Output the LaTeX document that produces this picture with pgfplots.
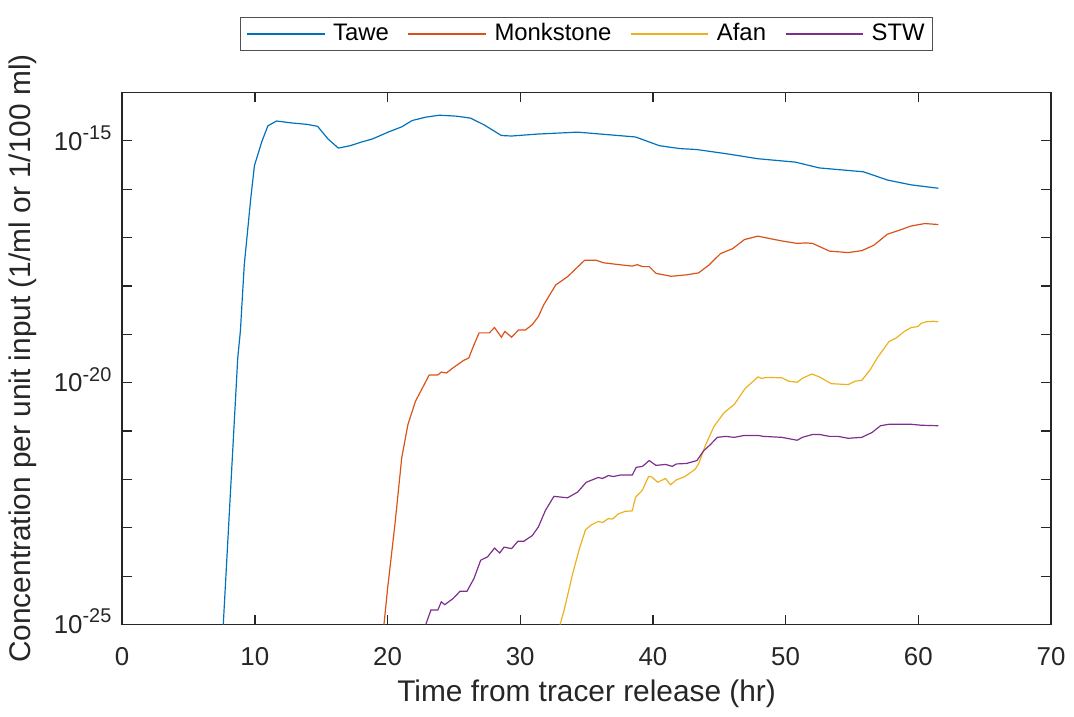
\documentclass[border=0pt]{standalone}
\usepackage{fontspec}
\setmainfont{Liberation Sans}
\usepackage{pgfplots}
\pgfplotsset{compat=1.18}
\usepackage{pgfplotstable}

% MATLAB default line colours
\definecolor{mblue}{HTML}{0072BD}
\definecolor{morange}{HTML}{D95319}
\definecolor{myellow}{HTML}{EDB120}
\definecolor{mpurple}{HTML}{7E2F8E}
\definecolor{axgray}{HTML}{262626}

\newcommand{\tenpow}[1]{10\raisebox{11pt}{\fontsize{20}{22}\selectfont #1}}

% y values are log10 of the concentration
\pgfplotstableread{
t ly
7.62 -25.00
8.71 -19.49
8.91 -18.93
9.20 -17.57
9.69 -16.19
9.97 -15.51
10.52 -15.02
10.98 -14.69
11.63 -14.59
12.79 -14.63
13.96 -14.66
14.73 -14.70
15.51 -14.96
16.29 -15.15
17.19 -15.10
17.97 -15.03
18.87 -14.96
20.04 -14.82
21.07 -14.71
21.85 -14.58
22.88 -14.51
23.92 -14.47
25.21 -14.49
26.25 -14.53
27.28 -14.67
28.58 -14.89
29.35 -14.90
31.30 -14.86
34.33 -14.82
38.69 -14.92
40.49 -15.10
42.03 -15.16
43.31 -15.18
45.62 -15.27
47.92 -15.37
50.74 -15.44
52.54 -15.56
55.87 -15.64
57.67 -15.81
59.46 -15.91
61.51 -15.98
}\tawe

\pgfplotstableread{
t ly
19.73 -25.00
19.99 -24.29
20.56 -22.92
21.07 -21.55
21.54 -20.86
22.11 -20.38
22.76 -20.04
23.14 -19.84
23.79 -19.84
24.05 -19.78
24.44 -19.80
24.95 -19.69
25.73 -19.54
26.12 -19.49
26.51 -19.22
26.90 -18.97
27.67 -18.97
28.06 -18.86
28.58 -19.06
28.84 -18.94
29.35 -19.06
29.87 -18.91
30.39 -18.91
30.91 -18.80
31.37 -18.63
31.77 -18.39
32.67 -17.98
33.56 -17.81
34.85 -17.47
35.74 -17.47
36.26 -17.52
37.15 -17.55
38.44 -17.59
38.82 -17.56
39.21 -17.60
39.72 -17.60
40.23 -17.74
41.38 -17.80
42.54 -17.77
43.44 -17.73
44.21 -17.57
45.10 -17.33
46.00 -17.23
46.90 -17.04
47.92 -16.97
48.44 -17.00
49.72 -17.07
50.87 -17.12
51.51 -17.11
52.03 -17.12
53.31 -17.28
54.72 -17.31
55.74 -17.27
56.64 -17.16
57.67 -16.93
58.44 -16.86
59.46 -16.76
60.49 -16.71
61.51 -16.73
}\monk

\pgfplotstableread{
t ly
33.00 -25.00
33.31 -24.70
33.95 -23.95
34.46 -23.43
34.92 -23.04
35.36 -22.94
35.87 -22.87
36.21 -22.89
36.64 -22.81
36.95 -22.82
37.41 -22.71
37.92 -22.66
38.44 -22.65
38.69 -22.37
39.21 -22.22
39.67 -21.94
39.92 -21.95
40.36 -22.06
40.95 -21.98
41.33 -22.11
41.77 -22.01
42.41 -21.94
43.18 -21.79
43.44 -21.68
43.95 -21.30
44.59 -20.91
45.36 -20.62
46.13 -20.45
46.95 -20.12
47.92 -19.88
48.18 -19.91
48.69 -19.89
49.72 -19.90
50.23 -19.97
50.87 -19.99
51.26 -19.91
51.97 -19.82
52.54 -19.88
53.44 -20.02
54.72 -20.04
55.23 -19.97
55.74 -19.95
56.38 -19.73
56.90 -19.49
57.79 -19.15
58.31 -19.08
58.95 -18.94
59.46 -18.86
59.97 -18.84
60.23 -18.77
60.62 -18.74
61.13 -18.73
61.51 -18.74
}\afan

\pgfplotstableread{
t ly
22.88 -25.00
23.27 -24.70
23.79 -24.70
24.05 -24.53
24.31 -24.59
24.95 -24.46
25.47 -24.31
25.99 -24.31
26.51 -24.05
27.02 -23.67
27.54 -23.60
28.06 -23.42
28.45 -23.52
28.78 -23.40
29.35 -23.43
29.82 -23.28
30.26 -23.28
30.91 -23.16
31.37 -22.98
31.90 -22.64
32.54 -22.35
33.56 -22.38
34.33 -22.26
34.97 -22.06
35.87 -21.96
36.21 -21.98
36.64 -21.92
37.03 -21.94
37.54 -21.91
38.44 -21.91
38.74 -21.75
39.21 -21.73
39.72 -21.61
40.23 -21.71
40.95 -21.69
41.46 -21.73
41.77 -21.68
42.54 -21.67
43.31 -21.61
43.82 -21.41
44.33 -21.28
44.85 -21.13
45.49 -21.11
46.13 -21.13
46.90 -21.09
47.92 -21.09
48.31 -21.11
49.72 -21.13
50.87 -21.19
51.26 -21.13
52.03 -21.07
52.54 -21.07
53.31 -21.11
53.95 -21.11
54.72 -21.15
55.74 -21.13
56.51 -21.03
57.15 -20.89
57.79 -20.86
59.46 -20.86
60.23 -20.88
61.51 -20.89
}\stw

\begin{document}
\begin{tikzpicture}
\fontsize{26}{30}\selectfont
\begin{axis}[
    name=main,
    scale only axis,
    width=934pt, height=535pt,
    xmin=0, xmax=70, ymin=-25, ymax=-14,
    xtick={0,10,...,70},
    ytick={-25,-24,...,-14},
    yticklabels={\tenpow{-25},,,,,\tenpow{-20},,,,,\tenpow{-15},},
    /pgf/number format/assume math mode=true,
    tick align=inside,
    major tick length=10pt,
    tick style={axgray, line width=1.3pt},
    axis line style={axgray, line width=1.5pt},
    ticklabel style={text=axgray, font=\fontsize{26}{30}\selectfont},
    xticklabel style={yshift=-14pt},
    yticklabel style={xshift=-2pt, yshift=3pt},
    xlabel={Time from tracer release (hr)},
    ylabel={Concentration per unit input (1/ml or 1/100 ml)},
    label style={text=axgray, font=\fontsize{30}{34}\selectfont},
    xlabel style={yshift=3pt},
    legend columns=4,
    legend style={name=lgd, at={(0.5,1)}, anchor=south, yshift=42pt,
        draw=none, fill=none,
        font=\fontsize{24}{28}\selectfont,
        inner xsep=6pt, inner ysep=4pt,
        /tikz/every odd column/.append style={column sep=6pt},
        /tikz/every even column/.append style={column sep=17pt}},
    legend image code/.code={\draw[#1, line width=1.2pt] (0pt,0pt) -- (78pt,0pt);},
    every axis plot/.append style={line width=1.2pt},
]
\addplot[color=mblue] table[x=t, y=ly] {\tawe};
\addlegendentry{Tawe}
\addplot[color=morange] table[x=t, y=ly] {\monk};
\addlegendentry{Monkstone}
\addplot[color=myellow] table[x=t, y=ly] {\afan};
\addlegendentry{Afan}
\addplot[color=mpurple] table[x=t, y=ly] {\stw};
\addlegendentry{STW}
\end{axis}
\draw[axgray!80, line width=1pt] (lgd.south west) rectangle (lgd.north east);
\path (main.south west) ++(-122pt,-86pt) coordinate (bl);
\path (main.north east) ++(18pt,93pt) coordinate (tr);
\path (bl) rectangle (tr);
\end{tikzpicture}
\end{document}
